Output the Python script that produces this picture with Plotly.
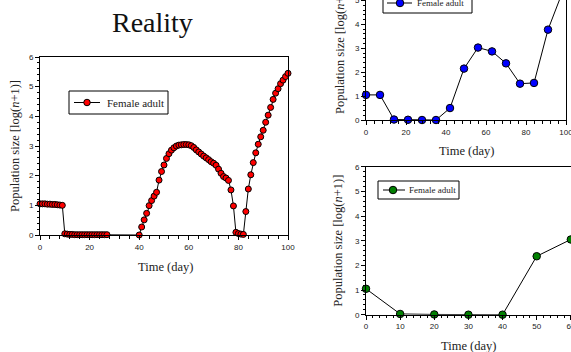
import plotly.graph_objects as go

# ---- data ----
real_days = list(range(0, 28)) + list(range(40, 101))
real_vals = [1.05, 1.05, 1.05, 1.04, 1.04, 1.03, 1.03, 1.02, 1.01, 1.00,
             0.04, 0.03, 0.02, 0.02, 0.01, 0.01, 0.01, 0.01, 0.01, 0.01,
             0.01, 0.01, 0.01, 0.01, 0.01, 0.01, 0.01, 0.01,
             0.00, 0.27, 0.51, 0.73, 0.99, 1.16, 1.31, 1.44, 1.85, 2.14,
             2.36, 2.58, 2.74, 2.86, 2.94, 3.00, 3.03, 3.04, 3.05, 3.05,
             3.04, 3.01, 2.95, 2.87, 2.80, 2.73, 2.66, 2.60, 2.54, 2.47,
             2.42, 2.35, 2.22, 2.08, 1.97, 1.92, 1.84, 1.52, 0.98, 0.09,
             0.05, 0.03, 0.02, 0.79, 1.55, 2.03, 2.44, 2.77, 3.06, 3.31,
             3.53, 3.80, 4.04, 4.30, 4.57, 4.78, 4.93, 5.10, 5.22, 5.34,
             5.45]

weekly_days = [0, 7, 14, 21, 28, 35, 42, 49, 56, 63, 70, 77, 84, 91, 98]
weekly_vals = [1.05, 1.05, 0.02, 0.01, 0.00, 0.00, 0.50, 2.15, 3.03, 2.87,
               2.37, 1.52, 1.55, 3.78, 5.30]

tenday_days = [0, 10, 20, 30, 40, 50, 60]
tenday_vals = [1.05, 0.03, 0.01, 0.00, 0.00, 2.37, 3.05]

series_name = "Female adult"
x_title = "Time (day)"
y_title = "Population size [log(<i>n</i>+1)]"
main_title = "Reality"

W, H = 571, 352
SERIF = "Liberation Serif, Times New Roman, serif"
SANS = "Liberation Sans, Arial, sans-serif"


def px_x(p):
    return p / W


def px_y(p):
    return 1 - p / H


fig = go.Figure()

fig.add_trace(go.Scatter(
    x=real_days, y=real_vals, mode="lines+markers", name=series_name,
    line=dict(color="black", width=1),
    marker=dict(color="#ff0000", size=6, line=dict(color="black", width=1)),
    cliponaxis=False, xaxis="x", yaxis="y", showlegend=False))

fig.add_trace(go.Scatter(
    x=weekly_days, y=weekly_vals, mode="lines+markers", name=series_name,
    line=dict(color="black", width=1),
    marker=dict(color="#0000ff", size=7.5, line=dict(color="black", width=1)),
    cliponaxis=False, xaxis="x2", yaxis="y2", showlegend=False))

fig.add_trace(go.Scatter(
    x=tenday_days, y=tenday_vals, mode="lines+markers", name=series_name,
    line=dict(color="black", width=1),
    marker=dict(color="#008000", size=7.5, line=dict(color="black", width=1)),
    cliponaxis=False, xaxis="x3", yaxis="y3", showlegend=False))


def axis(domain, rng, dtick, mdtick, anchor):
    return dict(
        domain=domain, range=rng, dtick=dtick, tick0=0, anchor=anchor,
        automargin=False, ticklabeloverflow="allow",
        showline=True, linecolor="black", linewidth=1, mirror=True,
        ticks="outside", ticklen=4, tickcolor="black", tickwidth=1,
        minor=dict(dtick=mdtick, ticks="outside", ticklen=2.5,
                   tickcolor="black", tickwidth=1),
        showgrid=False, zeroline=False,
        tickfont=dict(family=SANS, size=8, color="#222"),
    )


fig.update_layout(
    width=W, height=H,
    margin=dict(l=0, r=0, t=0, b=0, autoexpand=False),
    paper_bgcolor="white", plot_bgcolor="white",
    xaxis=axis([px_x(40), px_x(288)], [0, 100], 20, 4, "y"),
    yaxis=axis([px_y(235), px_y(57)], [0, 6], 1, 0.2, "x"),
    xaxis2=axis([px_x(366), px_x(566)], [0, 100], 20, 4, "y2"),
    yaxis2=axis([px_y(120), 1.0], [0, 5.02], 1, 0.2, "x2"),
    xaxis3=axis([px_x(366), 1.0], [0, 60.05], 10, 2, "y3"),
    yaxis3=axis([px_y(314.7), px_y(166.7)], [0, 6], 1, 0.2, "x3"),
    showlegend=False,
)

# legend boxes: (box x0, y0, x1, y1, line x0, line x1, marker cx, text x, center y, marker size, color, font size)
legends = [
    (69, 91, 168, 114, 74, 100, 87, 106, 102.5, 6.5, "#ff0000", 11),
    (383, -6, 472, 13, 387, 412, 400, 416, 3, 7.5, "#0000ff", 9),
    (378, 181, 459, 199, 383, 405, 393, 408, 190, 7.5, "#008000", 9),
]
for (bx0, by0, bx1, by1, lx0, lx1, mcx, tx, cy, ms, col, fs) in legends:
    fig.add_shape(type="rect", xref="paper", yref="paper",
                  x0=px_x(bx0), x1=px_x(bx1), y0=px_y(by1), y1=px_y(by0),
                  line=dict(color="black", width=1), fillcolor="white",
                  layer="above")
    fig.add_shape(type="line", xref="paper", yref="paper",
                  x0=px_x(lx0), x1=px_x(lx1), y0=px_y(cy), y1=px_y(cy),
                  line=dict(color="black", width=1), layer="above")
    r = ms / 2
    fig.add_shape(type="circle", xref="paper", yref="paper",
                  x0=px_x(mcx - r), x1=px_x(mcx + r),
                  y0=px_y(cy + r), y1=px_y(cy - r),
                  line=dict(color="black", width=1), fillcolor=col,
                  layer="above")
    fig.add_annotation(xref="paper", yref="paper", showarrow=False,
                       x=px_x(tx), y=px_y(cy), xanchor="left", yanchor="middle",
                       text=series_name, borderpad=0,
                       font=dict(family=SERIF, size=fs, color="#222"))

ann_font = dict(family=SERIF, size=12.5, color="#222")
annotations = [
    dict(text=main_title, x=px_x(152), y=px_y(22), font=dict(family=SERIF, size=28, color="#111")),
    dict(text=y_title, x=px_x(15), y=px_y(146), textangle=-90, font=ann_font),
    dict(text=x_title, x=px_x(165), y=px_y(267), font=ann_font),
    dict(text=y_title, x=px_x(340), y=px_y(48), textangle=-90, font=ann_font),
    dict(text=x_title, x=px_x(466), y=px_y(151), font=ann_font),
    dict(text=y_title, x=px_x(338), y=px_y(240.7), textangle=-90, font=ann_font),
    dict(text=x_title, x=px_x(468), y=px_y(345.5), font=ann_font),
]
for a in annotations:
    fig.add_annotation(xref="paper", yref="paper", showarrow=False,
                       xanchor="center", yanchor="middle", **a)

fig.write_html("out.html")
